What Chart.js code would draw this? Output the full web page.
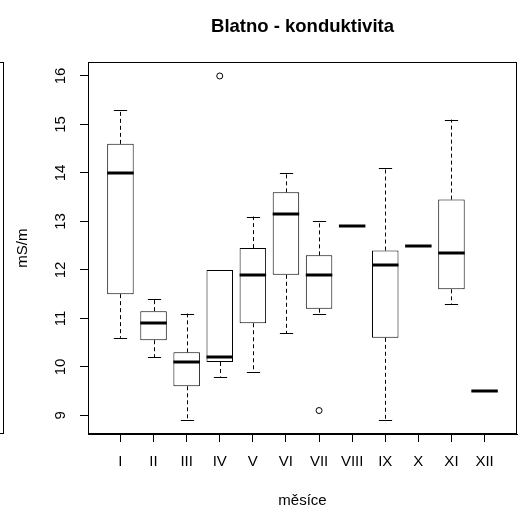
<!DOCTYPE html>
<html>
<head>
<meta charset="utf-8">
<script src="https://cdn.jsdelivr.net/npm/chart.js@4"></script>
<style>
  html, body { margin: 0; padding: 0; background: #fff; overflow: hidden; }
  canvas { display: block; }
</style>
</head>
<body>
<canvas id="boxChart" width="526" height="518"></canvas>
<script>
// values
const months = ['I', 'II', 'III', 'IV', 'V', 'VI', 'VII', 'VIII', 'IX', 'X', 'XI', 'XII'];
const whiskerLow  = [10.6, 10.2,  8.9,  9.8,  9.9, 10.7, 11.1, 12.9,  8.9, 12.5, 11.3, 9.5];
const q1          = [11.5, 10.55, 9.6, 10.1, 10.9, 11.9, 11.2, 12.9, 10.6, 12.5, 11.6, 9.5];
const medians     = [14.0, 10.9, 10.1, 10.2, 11.9, 13.15, 11.9, 12.9, 12.1, 12.5, 12.35, 9.5];
const q3          = [14.6, 11.15, 10.3, 12.0, 12.45, 13.6, 12.3, 12.9, 12.4, 12.5, 13.45, 9.5];
const whiskerHigh = [15.3, 11.4, 11.1, 12.0, 13.1, 14.0, 13.0, 12.9, 14.1, 12.5, 15.1, 9.5];
const outlierMonth = [4, 7];
const outlierValue = [16.0, 9.1];
const yTicks = [9, 10, 11, 12, 13, 14, 15, 16];

const FONT = 'Arial, "Liberation Sans", sans-serif';

// whiskers, staples and medians, drawn through the scales
const boxParts = {
    id: 'boxParts',
    beforeDatasetsDraw(chart) {
        const { ctx, scales: { x, y } } = chart;
        ctx.save();
        ctx.strokeStyle = '#000';
        ctx.lineWidth = 1;
        months.forEach((m, i) => {
            if (whiskerLow[i] === whiskerHigh[i]) return;
            const cx = Math.round(x.getPixelForValue(i + 1)) + 0.5;
            const sw = (x.getPixelForValue(i + 1.2) - x.getPixelForValue(i + 0.8)) / 2;
            ctx.setLineDash([4, 3]);
            ctx.beginPath();
            if (whiskerHigh[i] > q3[i]) {
                ctx.moveTo(cx, y.getPixelForValue(q3[i]));
                ctx.lineTo(cx, y.getPixelForValue(whiskerHigh[i]));
            }
            if (whiskerLow[i] < q1[i]) {
                ctx.moveTo(cx, y.getPixelForValue(q1[i]));
                ctx.lineTo(cx, y.getPixelForValue(whiskerLow[i]));
            }
            ctx.stroke();
            ctx.setLineDash([]);
            ctx.beginPath();
            [whiskerLow[i], whiskerHigh[i]].forEach(v => {
                const py = Math.round(y.getPixelForValue(v)) + 0.5;
                ctx.moveTo(cx - sw, py);
                ctx.lineTo(cx + sw, py);
            });
            ctx.stroke();
        });
        ctx.restore();
    },
    afterDatasetsDraw(chart) {
        const { ctx, scales: { x, y } } = chart;
        ctx.save();
        ctx.strokeStyle = '#000';
        ctx.lineWidth = 3;
        ctx.lineCap = 'butt';
        medians.forEach((v, i) => {
            const py = Math.round(y.getPixelForValue(v));
            ctx.beginPath();
            ctx.moveTo(x.getPixelForValue(i + 0.6), py);
            ctx.lineTo(x.getPixelForValue(i + 1.4), py);
            ctx.stroke();
        });
        ctx.restore();
    },
    afterDraw(chart) {
        const { ctx, chartArea: a } = chart;
        const l = Math.round(a.left);
        const r = Math.round(a.right);
        const t = Math.round(a.top);
        const b = Math.round(a.bottom);
        ctx.save();
        ctx.fillStyle = '#000';
        // plot frame
        ctx.fillRect(l, t, r - l, 1);
        ctx.fillRect(l, b - 1, r - l, 1);
        ctx.fillRect(l, t, 1, b - t);
        ctx.fillRect(r - 1, t, 1, b - t);
        // edge of the neighbouring panel on the left
        ctx.fillRect(0, t, 4, 1);
        ctx.fillRect(3, t, 1, b - t);
        ctx.fillRect(0, b - 1, 4, 1);
        ctx.restore();
    }
};

const ctx = document.getElementById('boxChart').getContext('2d');
new Chart(ctx, {
    type: 'bar',
    data: {
        datasets: [{
            label: 'box',
            data: months.map((m, i) => ({ x: i + 1, y: [q1[i], q3[i]] })),
            backgroundColor: '#fff',
            borderColor: '#000',
            borderWidth: 1,
            borderSkipped: false,
            categoryPercentage: 0.8,
            barPercentage: 1.0
        }, {
            type: 'scatter',
            label: 'outliers',
            data: outlierMonth.map((m, i) => ({ x: m, y: outlierValue[i] })),
            pointStyle: 'circle',
            pointRadius: 3,
            pointBackgroundColor: 'rgba(0,0,0,0)',
            pointBorderColor: '#000',
            pointBorderWidth: 1
        }]
    },
    options: {
        responsive: false,
        animation: false,
        devicePixelRatio: 1,
        layout: { padding: { left: 0, right: 9, top: 0, bottom: 0 } },
        plugins: {
            legend: { display: false },
            tooltip: { enabled: false },
            title: {
                display: true,
                fullSize: false,
                text: 'Blatno - konduktivita',
                color: '#000',
                font: { family: FONT, size: 18.5, weight: 'bold' },
                padding: { top: 16, bottom: 24 }
            }
        },
        scales: {
            x: {
                type: 'linear',
                offset: false,
                min: 0.02,
                max: 12.98,
                afterBuildTicks: (scale) => { scale.ticks = months.map((m, i) => ({ value: i + 1 })); },
                afterFit: (scale) => { scale.height = 84; },
                ticks: {
                    callback: (v) => months[v - 1],
                    color: '#000',
                    font: { family: FONT, size: 15 },
                    padding: 11,
                    autoSkip: false,
                    maxRotation: 0
                },
                grid: { offset: false, drawOnChartArea: false, drawTicks: true, tickLength: 8, color: '#000' },
                border: { display: true, color: '#000' },
                title: {
                    display: true,
                    text: 'měsíce',
                    color: '#000',
                    font: { family: FONT, size: 15 },
                    padding: { top: 0, bottom: 8 }
                }
            },
            y: {
                min: 8.616,
                max: 16.284,
                afterBuildTicks: (scale) => { scale.ticks = yTicks.map(v => ({ value: v })); },
                afterFit: (scale) => { scale.width = 88; },
                ticks: {
                    color: '#000',
                    font: { family: FONT, size: 15 },
                    minRotation: 90,
                    maxRotation: 90,
                    crossAlign: 'center',
                    padding: 11
                },
                grid: { drawOnChartArea: false, drawTicks: true, tickLength: 8, color: '#000' },
                border: { display: true, color: '#000' },
                title: {
                    display: true,
                    text: 'mS/m',
                    color: '#000',
                    font: { family: FONT, size: 15 },
                    padding: { top: 14, bottom: 0 }
                }
            }
        }
    },
    plugins: [boxParts]
});
</script>
</body>
</html>
